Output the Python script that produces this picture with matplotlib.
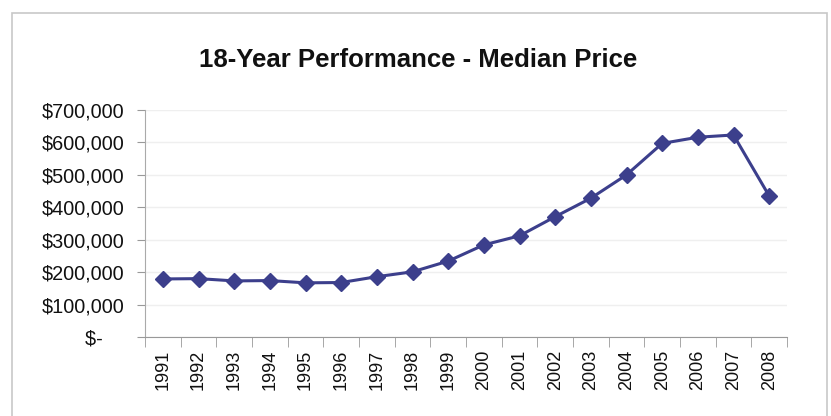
import matplotlib.pyplot as plt
from matplotlib.patches import Rectangle
from matplotlib.ticker import FuncFormatter

# 18-year median price chart

years = ['1991', '1992', '1993', '1994', '1995', '1996', '1997', '1998', '1999',
         '2000', '2001', '2002', '2003', '2004', '2005', '2006', '2007', '2008']
median_price = [179000, 180000, 173000, 174000, 167000, 168000, 186000, 201000, 234000,
                284000, 312000, 371000, 428000, 500000, 597000, 616000, 623000, 435000]
y_ticks = [0, 100000, 200000, 300000, 400000, 500000, 600000, 700000]

plt.rcParams['font.family'] = ['Liberation Sans', 'DejaVu Sans']

fig = plt.figure(figsize=(8.31, 4.16), dpi=100)
fig.patch.set_facecolor('white')

# chart frame
fig.patches.append(Rectangle((12 / 831, -0.05), 815 / 831, 1 - 13 / 416 + 0.05,
                             transform=fig.transFigure, fill=False,
                             edgecolor='#c8c8c8', linewidth=1.2))

ax = fig.add_axes([145 / 831, 79 / 416, 642 / 831, 227 / 416])
x = list(range(len(years)))
ax.plot(x, median_price, color='#3c3f8c', linewidth=2.2, marker='D',
        markersize=8, markerfacecolor='#3c3f8c', markeredgecolor='#3c3f8c')

ax.set_xlim(-0.5, len(years) - 0.5)
ax.set_ylim(0, 700000)
ax.set_yticks(y_ticks)
ax.yaxis.set_major_formatter(FuncFormatter(lambda v, p: '$-    ' if v == 0 else '${:,.0f}'.format(v)))
ax.set_xticks(x)
ax.set_xticklabels(years, rotation=90)
ax.set_xticks([i - 0.5 for i in range(len(years) + 1)], minor=True)
ax.tick_params(axis='x', which='major', length=0, pad=9, labelsize=13, labelcolor='#111111')
ax.tick_params(axis='x', which='minor', length=7, color='#999999', direction='out')
ax.tick_params(axis='y', length=6, color='#999999', pad=8.5, labelsize=14.3, labelcolor='#111111')

ax.grid(axis='y', color='#efefef', linewidth=1)
ax.set_axisbelow(True)
for s in ['top', 'right']:
    ax.spines[s].set_visible(False)
ax.spines['left'].set_color('#aaaaaa')
ax.spines['bottom'].set_color('#999999')

fig.text(418 / 831, 1 - 60 / 416, '18-Year Performance - Median Price',
         ha='center', va='center', fontsize=18.5, fontweight='bold', color='#111111')

fig.savefig('out.png', dpi=100)
